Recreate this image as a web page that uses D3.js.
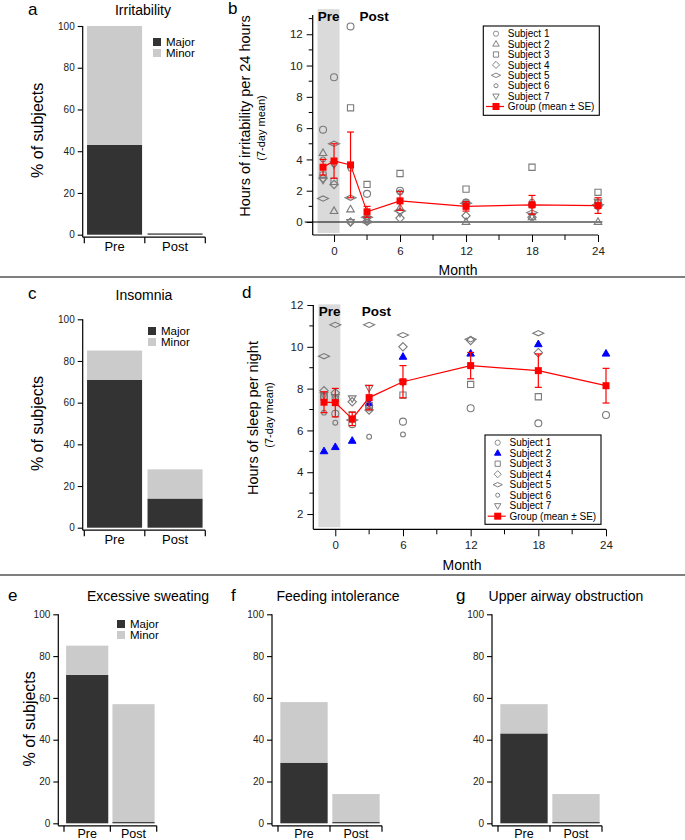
<!DOCTYPE html>
<html><head><meta charset="utf-8">
<script src="https://cdn.jsdelivr.net/npm/d3@7"></script>
<style>body{margin:0;background:#fff}svg{display:block;font-family:"Liberation Sans",Arial,Helvetica,sans-serif}</style>
</head><body><svg id="c" width="685" height="840"></svg>
<script>
// ---------- DATA ----------
const barCategories = ["Pre", "Post"];
const barTicks = [0, 20, 40, 60, 80, 100];
const severityNames = ["Major", "Minor"];
const irritMajor = [43, 0.6], irritMinor = [57, 0];
const insomMajor = [71, 14], insomMinor = [14, 14];
const sweatMajor = [71, 0.6], sweatMinor = [14, 56.4];
const feedMajor = [29, 0.6], feedMinor = [29, 13.4];
const airwayMajor = [43, 0.6], airwayMinor = [14, 13.4];

const months = [-1, 0, 1.5, 3, 6, 12, 18, 24];
const monthTicks = [0, 6, 12, 18, 24];
const monthMinorTicks = [3, 9, 15, 21];
const subjectNames = ["Subject 1", "Subject 2", "Subject 3", "Subject 4", "Subject 5", "Subject 6", "Subject 7"];
const groupName = "Group (mean \u00b1 SE)";

// panel b: hours of irritability per 24 h
const irritS1 = [5.9, 9.25, 12.5, 1.8, 2.0, 1.25, 1.1, 1.2];
const irritS2 = [4.4, 0.7, 0.8, 0.1, 0.9, 0.0, 0.3, 0.0];
const irritS3 = [3.0, 2.6, 7.3, 2.4, 3.1, 2.1, 3.5, 1.9];
const irritS4 = [2.8, 2.4, 0.0, 0.05, 0.25, 0.4, 0.3, 1.0];
const irritS5 = [1.5, 5.0, 1.55, 0.3, 0.7, 1.2, 0.6, 1.1];
const irritS6 = [4.0, 3.7, 3.4, 0.0, 1.9, 1.3, 1.3, 1.3];
const irritS7 = [2.7, 3.7, 0.0, 0.2, 0.6, 1.1, 0.4, 1.3];
const irritMean = [3.5, 3.9, 3.65, 0.65, 1.35, 1.0, 1.1, 1.05];
const irritSE = [0.5, 1.1, 2.1, 0.35, 0.6, 0.3, 0.6, 0.5];
const irritYTicks = [0, 2, 4, 6, 8, 10, 12];
const irritYMinor = [1, 3, 5, 7, 9, 11, 13];

// panel d: hours of sleep per night
const sleepS1 = [7.6, 6.8, 6.3, 7.1, 6.42, 7.06, 6.34, 6.74];
const sleepS2 = [5.0, 5.2, 5.5, 7.3, 9.52, 9.67, 10.12, 9.67];
const sleepS3 = [7.6, 7.5, 6.74, 7.2, 7.69, 8.2, 7.61, null];
const sleepS4 = [7.9, 7.8, 7.37, 6.98, 10.0, 10.3, 9.72, null];
const sleepS5 = [9.55, 11.05, 6.5, 11.05, 10.56, 10.36, 10.65, null];
const sleepS6 = [6.85, 6.37, 6.5, 5.7, 5.81, null, null, null];
const sleepS7 = [7.7, 7.6, 7.54, 8.04, 8.3, null, null, null];
const sleepMean = [7.35, 7.33, 6.55, 7.57, 8.33, 9.1, 8.86, 8.14];
const sleepSE = [0.5, 0.68, 0.32, 0.58, 0.77, 0.63, 0.8, 0.83];
const sleepYTicks = [2, 4, 6, 8, 10, 12];
const sleepYMinor = [3, 5, 7, 9, 11];

// ---------- DRAW ----------
const svg = d3.select("#c");
const FONT = '"Liberation Sans",Arial,Helvetica,sans-serif';
const GREY = "#7a7a7a";
const MAJOR_COL = "#333333", MINOR_COL = "#cbcbcb";

function txt(g, x, y, s, opt = {}) {
  const t = g.append("text").attr("x", x).attr("y", y).text(s)
    .attr("font-size", opt.size || 12).attr("fill", opt.fill || "#000")
    .attr("text-anchor", opt.anchor || "start");
  if (opt.bold) t.attr("font-weight", "bold");
  if (opt.rotate) t.attr("transform", `rotate(-90,${x},${y})`);
  return t;
}

// dividers
svg.append("line").attr("x1", 0).attr("x2", 685).attr("y1", 277).attr("y2", 277).attr("stroke", "#555").attr("stroke-width", 1.3);
svg.append("line").attr("x1", 0).attr("x2", 685).attr("y1", 575).attr("y2", 575).attr("stroke", "#555").attr("stroke-width", 1.3);

function barPanel(p) {
  const g = svg.append("g");
  const y = d3.scaleLinear().domain([0, 100]).range([p.yBot, p.yTop]);
  const x = d3.scaleBand().domain(barCategories).range([p.x0 + p.r0, p.x0 + p.r1]).paddingInner(0.09).paddingOuter(0.045);
  const ya = g.append("g").attr("transform", `translate(${p.x0},0)`)
    .call(d3.axisLeft(y).tickValues(barTicks).tickSize(5).tickSizeOuter(0).tickPadding(3));
  ya.select(".domain").attr("d", `M0,${p.yTop}V${p.yBot + 2.5}`).attr("stroke-width", 1.2);
  ya.selectAll("text").attr("font-size", 10).attr("font-family", FONT).attr("fill", "#222");
  ya.selectAll(".tick line").attr("stroke-width", 1.1);
  const stackData = barCategories.map((c, i) => ({ cat: c, Major: p.major[i], Minor: p.minor[i] }));
  const series = d3.stack().keys(severityNames)(stackData);
  const cols = { Major: MAJOR_COL, Minor: MINOR_COL };
  series.forEach(s => {
    g.selectAll(null).data(s).join("rect")
      .attr("x", d => x(d.data.cat)).attr("width", x.bandwidth())
      .attr("y", d => y(d[1])).attr("height", d => Math.max(0, y(d[0]) - y(d[1])))
      .attr("fill", cols[s.key]);
  });
  const xb = p.yBot + 2.5;
  const [r0, r1] = x.range();
  g.append("line").attr("x1", p.x0).attr("x2", r1).attr("y1", xb).attr("y2", xb).attr("stroke", "#000").attr("stroke-width", 1.2);
  [r0, (r0 + r1) / 2, r1].forEach(t => g.append("line").attr("x1", t).attr("x2", t).attr("y1", xb).attr("y2", xb + 6).attr("stroke", "#000").attr("stroke-width", 1.2));
  barCategories.forEach(c => txt(g, x(c) + x.bandwidth() / 2, xb + p.catDy, c, { size: p.catSize, anchor: "middle" }));
  txt(g, p.labelX, p.labelY, p.label, { size: 17 });
  txt(g, p.titleX, p.titleY, p.title, { size: 14, anchor: "middle" });
  if (p.ylabel) txt(g, p.ylabelX, (p.yTop + p.yBot) / 2, "% of subjects", { size: 16, anchor: "middle", rotate: true });
  if (p.legendX) {
    severityNames.forEach((k, i) => {
      g.append("rect").attr("x", p.legendX - 4).attr("y", p.legendY + i * 11 - 4).attr("width", 8).attr("height", 8).attr("fill", cols[k]);
      txt(g, p.legendX + 9, p.legendY + i * 11 + 4, k, { size: 11.5 });
    });
  }
}

barPanel({ x0: 82.7, r0: 1.6, r1: 122.6, yTop: 26, yBot: 234.7, major: irritMajor, minor: irritMinor, catDy: 14, catSize: 13,
  label: "a", labelX: 28, labelY: 15, title: "Irritability", titleX: 143, titleY: 15, ylabel: true, ylabelX: 43,
  legendX: 157, legendY: 42 });
barPanel({ x0: 82.7, r0: 1.6, r1: 122.6, yTop: 319.3, yBot: 527.7, major: insomMajor, minor: insomMinor, catDy: 14, catSize: 13,
  label: "c", labelX: 28, labelY: 299, title: "Insomnia", titleX: 144, titleY: 300, ylabel: true, ylabelX: 43,
  legendX: 152, legendY: 331 });
barPanel({ x0: 58.3, r0: 5.7, r1: 98.4, yTop: 614.3, yBot: 823.3, major: sweatMajor, minor: sweatMinor, catDy: 12, catSize: 12.5,
  label: "e", labelX: 8, labelY: 601, title: "Excessive sweating", titleX: 148, titleY: 601, ylabel: true, ylabelX: 35,
  legendX: 121, legendY: 624 });
barPanel({ x0: 272, r0: 6, r1: 110, yTop: 614.3, yBot: 823.3, major: feedMajor, minor: feedMinor, catDy: 12, catSize: 12.5,
  label: "f", labelX: 231, labelY: 601, title: "Feeding intolerance", titleX: 338, titleY: 601 });
barPanel({ x0: 492, r0: 6, r1: 110, yTop: 614.3, yBot: 823.3, major: airwayMajor, minor: airwayMinor, catDy: 12, catSize: 12.5,
  label: "g", labelX: 456, labelY: 601, title: "Upper airway obstruction", titleX: 566, titleY: 601 });

// ---------- scatter panels ----------
function symPath(type) {
  switch (type) {
    case "tri": return "M0,-4.2L3.8,2.4L-3.8,2.4Z";
    case "tridown": return "M0,4.2L3.8,-2.4L-3.8,-2.4Z";
    case "square": return "M-3.1,-3.1h6.2v6.2h-6.2Z";
    case "diamond": return "M0,-4.2L4.2,0L0,4.2L-4.2,0Z";
    case "eye": return "M-5.5,0L0,-2.6L5.5,0L0,2.6Z";
    case "circle": return d3.symbol(d3.symbolCircle, 38)();
    case "smallcircle": return d3.symbol(d3.symbolCircle, 18)();
  }
}
const shapes = ["circle", "tri", "square", "diamond", "eye", "smallcircle", "tridown"];

function scatterPanel(p) {
  const g = svg.append("g");
  const x = d3.scaleLinear().domain(p.xDom).range(p.xRange);
  const y = d3.scaleLinear().domain(p.yDom).range(p.yRange);
  const [xL, xR] = p.xRange, [yB, yT] = p.yRange;
  g.append("rect").attr("x", x(-1.5)).attr("width", x(p.shadeR) - x(-1.5))
    .attr("y", y(p.shadeTop)).attr("height", y(p.shadeBot) - y(p.shadeTop)).attr("fill", "#dadada");
  if (p.zeroLine) g.append("line").attr("x1", xL - 8).attr("x2", x(24.4)).attr("y1", y(0)).attr("y2", y(0)).attr("stroke", "#000").attr("stroke-width", 1.1);
  const ya = g.append("g").attr("transform", `translate(${xL},0)`)
    .call(d3.axisLeft(y).tickValues(p.yTicks).tickSize(6).tickSizeOuter(0).tickPadding(4));
  ya.select(".domain").attr("d", `M0,${yT}V${yB}`).attr("stroke-width", 1.2);
  ya.selectAll("text").attr("font-size", 11.5).attr("font-family", FONT).attr("fill", "#222");
  p.yMinor.forEach(v => g.append("line").attr("x1", xL - 4).attr("x2", xL).attr("y1", y(v)).attr("y2", y(v)).attr("stroke", "#000"));
  const xa = g.append("g").attr("transform", `translate(0,${yB})`)
    .call(d3.axisBottom(x).tickValues(monthTicks).tickSize(7).tickSizeOuter(0).tickPadding(5));
  xa.select(".domain").attr("d", `M${xL},0H${x(24)}`).attr("stroke-width", 1.2);
  xa.selectAll("text").attr("font-size", 11.5).attr("font-family", FONT).attr("fill", "#222");
  monthMinorTicks.forEach(v => g.append("line").attr("x1", x(v)).attr("x2", x(v)).attr("y1", yB).attr("y2", yB + 5).attr("stroke", "#000"));
  txt(g, p.monthX, p.monthY, "Month", { size: 14, anchor: "middle" });
  txt(g, x(-0.5), p.preY, "Pre", { size: 13.5, bold: true, anchor: "middle" });
  txt(g, x(3.65), p.preY, "Post", { size: 13.5, bold: true, anchor: "middle" });
  txt(g, p.labelX, p.labelY, p.label, { size: 17 });
  txt(g, p.ytX, p.ytY, p.ytitle, { size: 14.5, anchor: "middle", rotate: true });
  txt(g, p.ysX, p.ysY, "(7-day mean)", { size: 11, anchor: "middle", rotate: true });
  p.subjects.forEach((vals, si) => {
    const blue = p.blueS2 && si === 1;
    vals.forEach((v, mi) => {
      if (v == null) return;
      g.append("path").attr("d", symPath(shapes[si]))
        .attr("transform", `translate(${x(months[mi])},${y(v)})`)
        .attr("fill", blue ? "#0000ff" : "none").attr("stroke", blue ? "#0000ff" : GREY)
        .attr("stroke-width", blue ? 1 : 1.1);
    });
  });
  const pts = months.map((m, i) => ({ m, v: p.mean[i], se: p.se[i] }));
  g.append("path").datum(pts).attr("d", d3.line().x(d => x(d.m)).y(d => y(d.v)))
    .attr("fill", "none").attr("stroke", "#ff0000").attr("stroke-width", 1.2);
  pts.forEach(d => {
    const cx = x(d.m);
    g.append("line").attr("x1", cx).attr("x2", cx).attr("y1", y(d.v - d.se)).attr("y2", y(d.v + d.se)).attr("stroke", "#ff0000").attr("stroke-width", 1.2);
    [d.v - d.se, d.v + d.se].forEach(e => g.append("line").attr("x1", cx - 3.5).attr("x2", cx + 3.5).attr("y1", y(e)).attr("y2", y(e)).attr("stroke", "#ff0000").attr("stroke-width", 1.2));
    g.append("rect").attr("x", cx - 3.5).attr("y", y(d.v) - 3.5).attr("width", 7).attr("height", 7).attr("fill", "#ff0000");
  });
  const L = p.legend;
  g.append("rect").attr("x", L.x).attr("y", L.y).attr("width", L.w).attr("height", L.h).attr("fill", "#fff").attr("stroke", "#000").attr("stroke-width", 1.1);
  subjectNames.concat([groupName]).forEach((name, i) => {
    const ry = L.y + 7.7 + i * L.dy;
    const sx = L.x + 12.7;
    if (i < 7) {
      const blue = p.blueS2 && i === 1;
      g.append("path").attr("d", symPath(shapes[i])).attr("transform", `translate(${sx},${ry}) scale(${i === 0 ? 0.75 : 0.85})`)
        .attr("fill", blue ? "#0000ff" : "none").attr("stroke", blue ? "#0000ff" : GREY).attr("stroke-width", 1.1);
    } else {
      g.append("line").attr("x1", sx - 10).attr("x2", sx + 8).attr("y1", ry).attr("y2", ry).attr("stroke", "#ff0000").attr("stroke-width", 1.2);
      g.append("rect").attr("x", sx - 3.5).attr("y", ry - 3.5).attr("width", 7).attr("height", 7).attr("fill", "#ff0000");
    }
    txt(g, L.x + 24.5, ry + 3.6, name, { size: 10 });
  });
}

scatterPanel({
  xDom: [-1.94, 24], xRange: [312.7, 598], yDom: [-0.83, 13.23], yRange: [235, 15],
  shadeR: 0.5, shadeTop: 13.6, shadeBot: -0.7, zeroLine: true,
  yTicks: irritYTicks, yMinor: irritYMinor,
  subjects: [irritS1, irritS2, irritS3, irritS4, irritS5, irritS6, irritS7],
  mean: irritMean, se: irritSE,
  monthX: 458, monthY: 275, preY: 21,
  label: "b", labelX: 228, labelY: 14,
  ytitle: "Hours of irritability per 24 hours", ytX: 250, ytY: 116,
  ysX: 265, ysY: 128,
  legend: { x: 483.3, y: 26, w: 116, h: 89.3, dy: 10.4 }
});
scatterPanel({
  xDom: [-1.95, 24], xRange: [313.3, 606], yDom: [1.27, 12], yRange: [529.3, 305],
  shadeR: 0.45, shadeTop: 12.03, shadeBot: 1.37, zeroLine: false,
  yTicks: sleepYTicks, yMinor: sleepYMinor,
  subjects: [sleepS1, sleepS2, sleepS3, sleepS4, sleepS5, sleepS6, sleepS7],
  mean: sleepMean, se: sleepSE, blueS2: true,
  monthX: 462, monthY: 570, preY: 316,
  label: "d", labelX: 242, labelY: 298,
  ytitle: "Hours of sleep per night", ytX: 258, ytY: 418,
  ysX: 273, ysY: 415,
  legend: { x: 485, y: 435, w: 116, h: 89.3, dy: 10.5 }
});
</script></body></html>
